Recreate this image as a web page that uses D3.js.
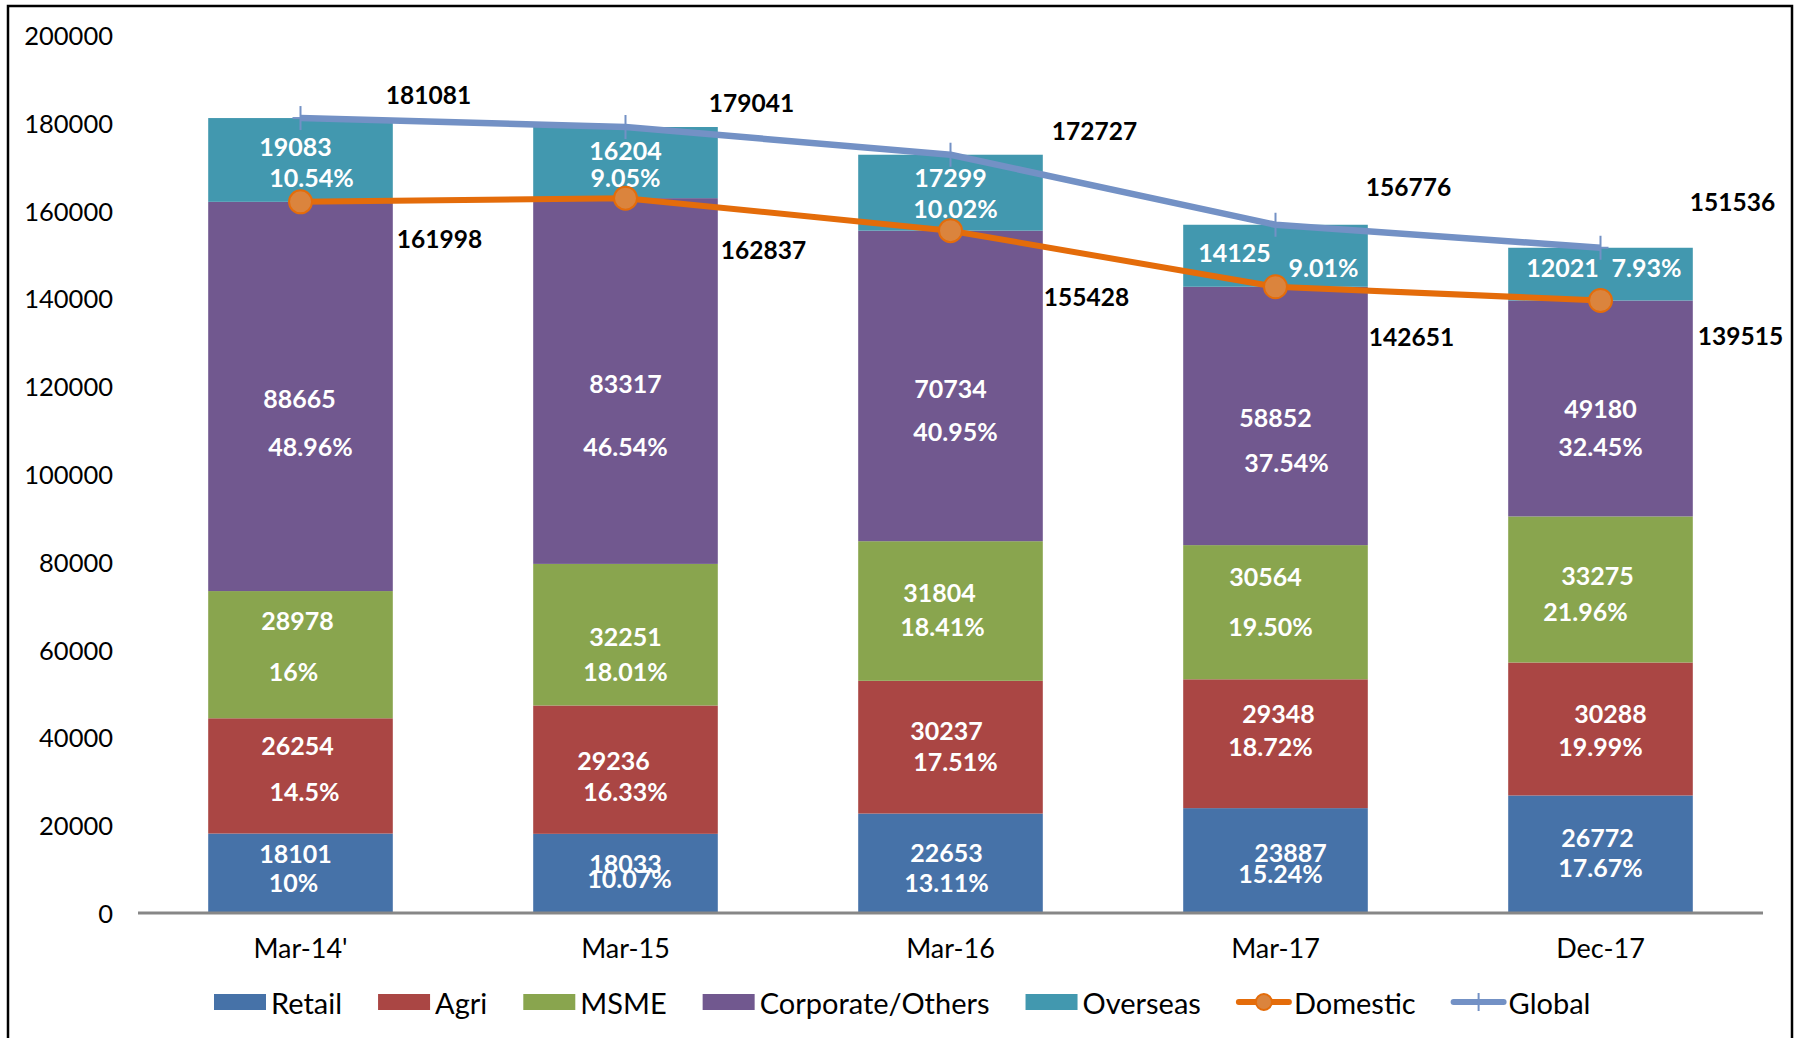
<!DOCTYPE html>
<html>
<head>
<meta charset="utf-8">
<script src="https://cdn.jsdelivr.net/npm/d3@7"></script>
<style>
  html, body { margin: 0; padding: 0; background: #fff; }
  svg { display: block; }
  text { font-family: Lato, "Open Sans", sans-serif; }
</style>
</head>
<body>
<div id="chart"></div>
<script>
// chart values
const categories = ["Mar-14'", "Mar-15", "Mar-16", "Mar-17", "Dec-17"];
const retail    = [18101, 18033, 22653, 23887, 26772];
const agri      = [26254, 29236, 30237, 29348, 30288];
const msme      = [28978, 32251, 31804, 30564, 33275];
const corporate = [88665, 83317, 70734, 58852, 49180];
const overseas  = [19083, 16204, 17299, 14125, 12021];
const domestic  = [161998, 162837, 155428, 142651, 139515];
const globalTot = [181081, 179041, 172727, 156776, 151536];

const retailPct    = ["10%", "10.07%", "13.11%", "15.24%", "17.67%"];
const agriPct      = ["14.5%", "16.33%", "17.51%", "18.72%", "19.99%"];
const msmePct      = ["16%", "18.01%", "18.41%", "19.50%", "21.96%"];
const corporatePct = ["48.96%", "46.54%", "40.95%", "37.54%", "32.45%"];
const overseasPct  = ["10.54%", "9.05%", "10.02%", "9.01%", "7.93%"];

const yTicks = [0, 20000, 40000, 60000, 80000, 100000, 120000, 140000, 160000, 180000, 200000];

const seriesNames = ["Retail", "Agri", "MSME", "Corporate/Others", "Overseas"];
const seriesValues = [retail, agri, msme, corporate, overseas];
const seriesPcts = [retailPct, agriPct, msmePct, corporatePct, overseasPct];
const colors = ["#4672A8", "#AA4644", "#89A54E", "#71588F", "#4298AF"];
const domColor = "#E46C0A", domFill = "#DB843D", gloColor = "#7391C5";

// hand-placed label nudges (value dx, dy, pct dx, dy) like the original
const nudges = [
  [[-5,-20,-7,9],[0,-10,4,5],[-4,-11,-4,19],[15,-9,5,12],[-3,-17,0,13]],
  [[-3,-31,4,15],[-12,-10,0,21],[-4,-17,5,14],[3,-31,-5,2],[10,-16,0,17]],
  [[-3,-35,-7,16],[0,1,0,36],[-11,-19,-8,15],[-10,-36,-5,14],[-3,-14,-15,22]],
  [[-1,2,10,50],[0,2,0,65],[0,2,5,45],[0,1,11,46],[0,0,0,38]],
  [[-5,-14,11,17],[0,-13,0,14],[0,-16,5,15],[-41,-4,48,11],[-38,-7,46,-7]]
];
const gloNudge = [[128,-24],[126,-25],[144,-24],[133,-38],[132,-46]];
const domNudge = [[139,37],[138,51],[136,66],[136,50],[140,35]];

const W = 1798, H = 1038;
const svg = d3.select("#chart").append("svg")
  .attr("width", W).attr("height", H);

// outer frame
svg.append("rect")
  .attr("x", 8).attr("y", 6).attr("width", W - 14).attr("height", H + 10)
  .attr("fill", "none").attr("stroke", "#000").attr("stroke-width", 2.5);

const x = d3.scaleBand().domain(categories).range([138, 1763])
  .paddingInner(0.432).paddingOuter(0.216);
const y = d3.scaleLinear().domain([0, 200000]).range([913, 35]);

// stack the segments
const rows = categories.map((c, i) => {
  const r = { cat: c };
  seriesNames.forEach((s, j) => r[s] = seriesValues[j][i]);
  return r;
});
const stacked = d3.stack().keys(seriesNames)(rows);

// y tick labels
svg.append("g").selectAll("text").data(yTicks).join("text")
  .attr("x", 113).attr("y", d => y(d))
  .attr("text-anchor", "end").attr("dominant-baseline", "central")
  .attr("font-size", 25.5).attr("fill", "#000")
  .text(d => d);

// bars
stacked.forEach((layer, j) => {
  svg.append("g").selectAll("rect").data(layer).join("rect")
    .attr("x", d => x(d.data.cat))
    .attr("width", x.bandwidth())
    .attr("y", d => y(d[1]))
    .attr("height", d => y(d[0]) - y(d[1]))
    .attr("fill", colors[j]);
});

// x axis line
svg.append("line")
  .attr("x1", 138).attr("x2", 1763).attr("y1", y(0)).attr("y2", y(0))
  .attr("stroke", "#878787").attr("stroke-width", 3);

// category labels
svg.append("g").selectAll("text").data(categories).join("text")
  .attr("x", d => x(d) + x.bandwidth() / 2).attr("y", 947)
  .attr("text-anchor", "middle").attr("dominant-baseline", "central")
  .attr("font-size", 27).attr("fill", "#000")
  .text(d => d);

// segment labels
stacked.forEach((layer, j) => {
  const g = svg.append("g").attr("fill", "#fff").attr("font-weight", "bold")
    .attr("font-size", 25).attr("text-anchor", "middle")
    .attr("dominant-baseline", "central");
  layer.forEach((d, i) => {
    const cx = x(d.data.cat) + x.bandwidth() / 2;
    const cy = (y(d[0]) + y(d[1])) / 2;
    const n = nudges[j][i];
    g.append("text").attr("x", cx + n[0]).attr("y", cy + n[1]).text(seriesValues[j][i]);
    g.append("text").attr("x", cx + n[2]).attr("y", cy + n[3]).text(seriesPcts[j][i]);
  });
});

// lines
const cxOf = (d, i) => x(categories[i]) + x.bandwidth() / 2;
const line = d3.line().x(cxOf).y(d => y(d));

svg.append("path").datum(globalTot).attr("d", line)
  .attr("fill", "none").attr("stroke", gloColor).attr("stroke-width", 6.5)
  .attr("stroke-linejoin", "round");
const gm = svg.append("g").selectAll("g").data(globalTot).join("g")
  .attr("transform", (d, i) => `translate(${cxOf(d, i)},${y(d)})`);
gm.append("line").attr("y1", -12).attr("y2", 12).attr("stroke", gloColor).attr("stroke-width", 2);
gm.append("line").attr("x1", -8).attr("x2", 8).attr("stroke", gloColor).attr("stroke-width", 2);

svg.append("path").datum(domestic).attr("d", line)
  .attr("fill", "none").attr("stroke", domColor).attr("stroke-width", 6)
  .attr("stroke-linejoin", "round");
svg.append("g").selectAll("circle").data(domestic).join("circle")
  .attr("cx", cxOf).attr("cy", d => y(d)).attr("r", 11.5)
  .attr("fill", domFill).attr("stroke", domColor).attr("stroke-width", 2);

// total labels
const tl = svg.append("g").attr("font-weight", "bold").attr("font-size", 24.5)
  .attr("text-anchor", "middle").attr("dominant-baseline", "central").attr("fill", "#000");
globalTot.forEach((v, i) => {
  tl.append("text").attr("x", cxOf(v, i) + gloNudge[i][0]).attr("y", y(v) + gloNudge[i][1]).text(v);
});
domestic.forEach((v, i) => {
  tl.append("text").attr("x", cxOf(v, i) + domNudge[i][0]).attr("y", y(v) + domNudge[i][1]).text(v);
});

// legend
const legendItems = seriesNames.map((s, j) => ({ name: s, type: "rect", color: colors[j] }))
  .concat([{ name: "Domestic", type: "dom" }, { name: "Global", type: "glo" }]);
const lg = svg.append("g");
let lx = 214;
const ly = 1002;
legendItems.forEach(it => {
  const g = lg.append("g").attr("transform", `translate(${lx},${ly})`);
  if (it.type === "rect") {
    g.append("rect").attr("x", 0).attr("y", -8).attr("width", 52).attr("height", 16).attr("fill", it.color);
  } else if (it.type === "dom") {
    g.append("line").attr("x1", 2).attr("x2", 52).attr("stroke", domColor).attr("stroke-width", 6).attr("stroke-linecap", "round");
    g.append("circle").attr("cx", 27).attr("r", 8).attr("fill", domFill).attr("stroke", domColor).attr("stroke-width", 2);
  } else {
    g.append("line").attr("x1", 2).attr("x2", 52).attr("stroke", gloColor).attr("stroke-width", 6).attr("stroke-linecap", "round");
    g.append("line").attr("x1", 27).attr("x2", 27).attr("y1", -9).attr("y2", 9).attr("stroke", gloColor).attr("stroke-width", 2);
  }
  const t = g.append("text").attr("x", 57).attr("y", 0)
    .attr("dominant-baseline", "central").attr("font-size", 29).attr("fill", "#000")
    .text(it.name);
  lx += 57 + t.node().getComputedTextLength() + 36;
});
</script>
</body>
</html>
